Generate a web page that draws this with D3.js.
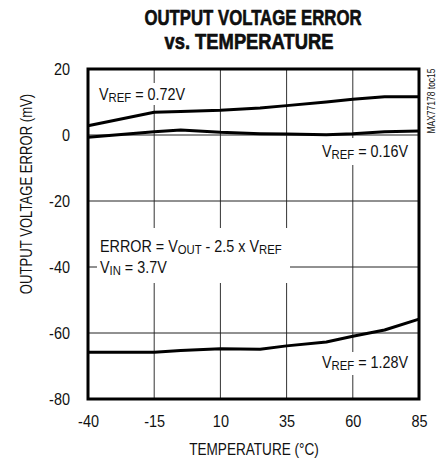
<!DOCTYPE html>
<html>
<head>
<meta charset="utf-8">
<script src="https://cdn.jsdelivr.net/npm/d3@7"></script>
<style>
  body { margin: 0; background: #fff; }
  svg text { font-family: "Liberation Sans", Arial, sans-serif; fill: #111; }
</style>
</head>
<body>
<svg id="chart" width="441" height="461"></svg>
<script>
const temps = [-40, -15, -5, 10, 25, 35, 50, 60, 72, 85]
const vref072 = [2.8, 6.9, 7.1, 7.5, 8.2, 8.9, 10.0, 10.8, 11.6, 11.6]
const vref016 = [-0.7, 1.0, 1.5, 0.8, 0.4, 0.3, 0.1, 0.4, 1.0, 1.2]
const vref128 = [-65.8, -65.8, -65.3, -64.8, -64.9, -63.9, -62.7, -61.0, -59.1, -55.8]
const xTicks = [-40, -15, 10, 35, 60, 85]
const yTicks = [-80, -60, -40, -20, 0, 20]

const svg = d3.select('#chart')
const plotL = 88, plotR = 419, plotT = 69, plotB = 399
const squeeze = 0.85 // the source font is a condensed face

const x = d3.scaleLinear().domain([-40, 85]).range([plotL, plotR])
const y = d3.scaleLinear().domain([-80, 20]).range([plotB, plotT])

// title
const title = svg.append('g')
	.attr('font-weight', 'bold')
	.attr('text-anchor', 'middle')
	.style('stroke', '#000')
	.style('stroke-width', 0.6)
title.append('text').attr('x', 253).attr('y', 25).style('font-size', '22px')
	.attr('textLength', 217).attr('lengthAdjust', 'spacingAndGlyphs')
	.text('OUTPUT VOLTAGE ERROR')
title.append('text').attr('x', 249).attr('y', 49).style('font-size', '22px')
	.attr('textLength', 169).attr('lengthAdjust', 'spacingAndGlyphs')
	.text('vs. TEMPERATURE')

// grid
svg.append('g').selectAll('line')
	.data(xTicks.slice(1, -1))
	.join('line')
	.attr('x1', d => x(d)).attr('x2', d => x(d))
	.attr('y1', plotT).attr('y2', plotB)
	.attr('stroke', '#333').attr('stroke-width', 1)
svg.append('g').selectAll('line')
	.data(yTicks.slice(1, -1))
	.join('line')
	.attr('x1', plotL).attr('x2', plotR)
	.attr('y1', d => y(d)).attr('y2', d => y(d))
	.attr('stroke', '#222').attr('stroke-width', 1)

// white boxes behind the annotations
const boxes = [
	[95, 83, 92, 22],
	[318, 138, 92, 27],
	[318, 352, 92, 23],
	[97, 228, 193, 55],
]
svg.append('g').selectAll('rect')
	.data(boxes)
	.join('rect')
	.attr('x', d => d[0]).attr('y', d => d[1])
	.attr('width', d => d[2]).attr('height', d => d[3])
	.attr('fill', '#fff')

// curves
const line = d3.line()
	.x((d, i) => x(temps[i]))
	.y(d => y(d))
svg.append('g').selectAll('path')
	.data([vref072, vref016, vref128])
	.join('path')
	.attr('d', line)
	.attr('fill', 'none')
	.attr('stroke', '#000')
	.attr('stroke-width', 3)
	.attr('stroke-linejoin', 'round')

// frame
svg.append('rect')
	.attr('x', plotL).attr('y', plotT)
	.attr('width', plotR - plotL).attr('height', plotB - plotT)
	.attr('fill', 'none').attr('stroke', '#000').attr('stroke-width', 3)

// axes (labels only)
const yAxis = svg.append('g')
	.attr('transform', `translate(${plotL},0)`)
	.call(d3.axisLeft(y).tickValues(yTicks).tickSize(0).tickFormat(d => String(d)))
yAxis.selectAll('text')
	.attr('x', 0)
	.attr('transform', `translate(-18,0) scale(${squeeze},1)`)
const xAxis = svg.append('g')
	.attr('transform', `translate(0,${plotB})`)
	.call(d3.axisBottom(x).tickValues(xTicks).tickSize(0).tickPadding(16).tickFormat(d => String(d)))
xAxis.selectAll('text')
	.attr('transform', `scale(${squeeze},1)`)
svg.selectAll('.domain').remove()
svg.selectAll('.tick text').style('font-size', '17px').style('fill', '#111')
yAxis.attr('font-family', null).attr('font-size', null)
xAxis.attr('font-family', null).attr('font-size', null)

svg.append('text')
	.attr('transform', `translate(254,455) scale(0.8,1)`)
	.attr('text-anchor', 'middle')
	.style('font-size', '17px')
	.text('TEMPERATURE (°C)')

svg.append('text')
	.attr('transform', `translate(32,194) rotate(-90) scale(0.82,1)`)
	.attr('text-anchor', 'middle')
	.style('font-size', '16px')
	.text('OUTPUT VOLTAGE ERROR (mV)')

svg.append('text')
	.attr('transform', 'translate(435,101) rotate(-90) scale(0.85,1)')
	.attr('text-anchor', 'middle')
	.style('font-size', '10px')
	.text('MAX77178 toc15')

// annotations with subscripts
function label(px, py, parts) {
	const t = svg.append('text')
		.attr('transform', `translate(${px},${py}) scale(0.87,1)`)
		.style('font-size', '16.5px')
	let shift = 0
	parts.forEach(p => {
		const sub = p[1]
		const dy = (sub ? 2 : 0) - shift
		shift = sub ? 2 : 0
		t.append('tspan')
			.attr('dy', dy)
			.style('font-size', sub ? '13px' : '16.5px')
			.text(p[0])
	})
}
label(99, 100, [['V', 0], ['REF', 1], [' = 0.72V', 0]])
label(322, 157, [['V', 0], ['REF', 1], [' = 0.16V', 0]])
label(322, 368, [['V', 0], ['REF', 1], [' = 1.28V', 0]])
label(100, 252, [['ERROR = V', 0], ['OUT', 1], [' - 2.5 x V', 0], ['REF', 1]])
label(100, 273, [['V', 0], ['IN', 1], [' = 3.7V', 0]])
</script>
</body>
</html>
